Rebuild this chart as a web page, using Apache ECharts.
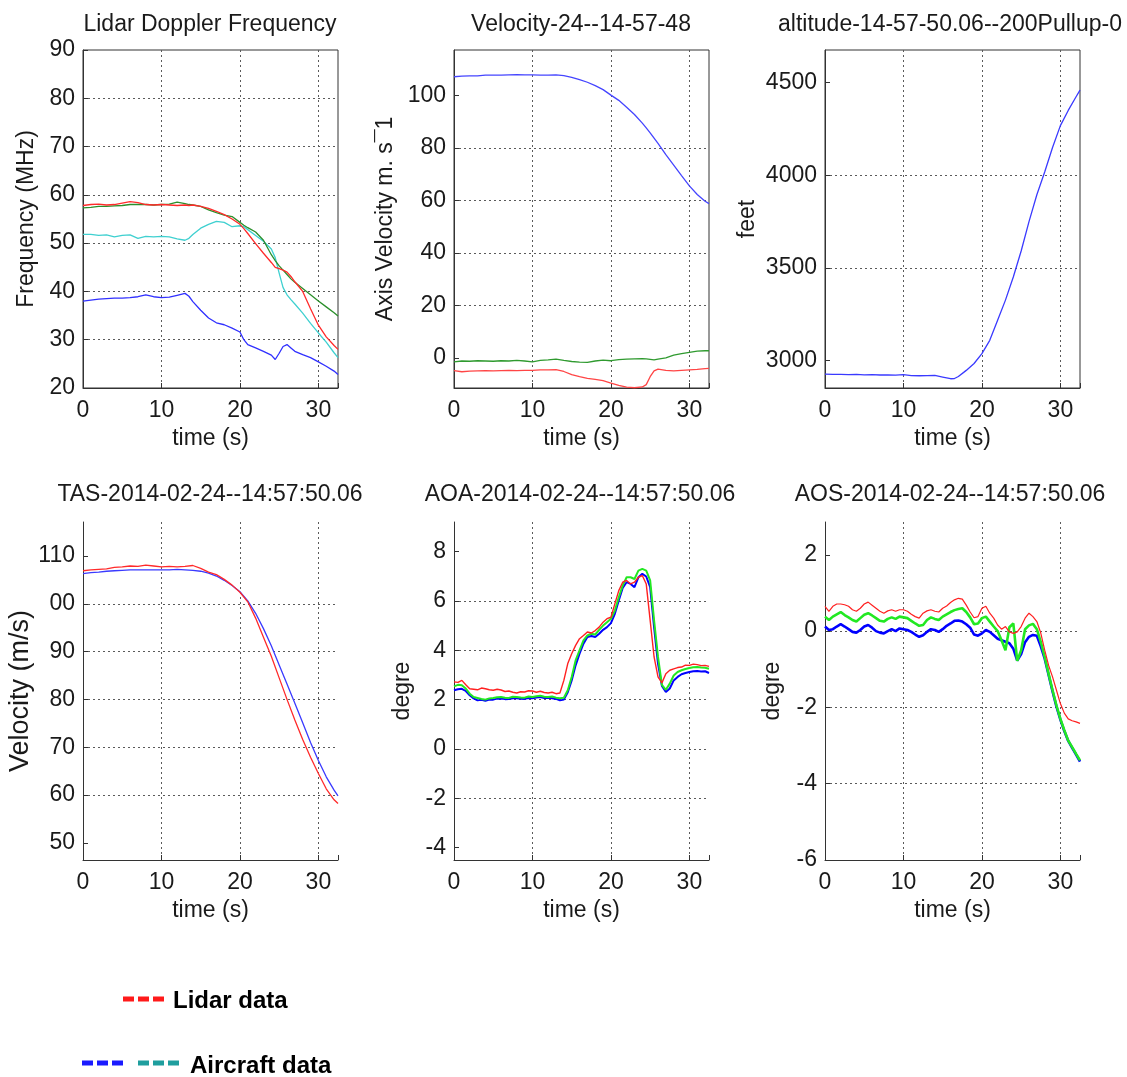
<!DOCTYPE html>
<html><head><meta charset="utf-8">
<script src="https://cdn.jsdelivr.net/npm/echarts@6/dist/echarts.min.js"></script>
<style>html,body{margin:0;padding:0;background:#fff}#c{width:1127px;height:1077px}</style>
</head><body><div id="c"></div>
<script>
// ---------------- text ----------------
const panelTitles = ['Lidar Doppler Frequency', 'Velocity-24--14-57-48', 'altitude-14-57-50.06--200Pullup-0',
  'TAS-2014-02-24--14:57:50.06', 'AOA-2014-02-24--14:57:50.06', 'AOS-2014-02-24--14:57:50.06'];
const yNames = ['Frequency (MHz)', 'Axis Velocity m. s\u00AF1', 'feet', 'Velocity (m/s)', 'degre', 'degre'];
const xName = 'time (s)';
const legendLabels = ['Lidar data', 'Aircraft data'];

// ---------------- tick labels ----------------
const timeTicks = [0, 10, 20, 30];
const timeTickLabels = ['0', '10', '20', '30'];
const freqTicks = [20, 30, 40, 50, 60, 70, 80, 90];
const freqTickLabels = ['20', '30', '40', '50', '60', '70', '80', '90'];
const velTicks = [0, 20, 40, 60, 80, 100];
const velTickLabels = ['0', '20', '40', '60', '80', '100'];
const altTicks = [3000, 3500, 4000, 4500];
const altTickLabels = ['3000', '3500', '4000', '4500'];
const tasTicks = [50, 60, 70, 80, 90, 100, 110];
const tasTickLabels = ['50', '60', '70', '80', '90', '00', '110'];
const aoaTicks = [-4, -2, 0, 2, 4, 6, 8];
const aoaTickLabels = ['-4', '-2', '0', '2', '4', '6', '8'];
const aosTicks = [-6, -4, -2, 0, 2];
const aosTickLabels = ['-6', '-4', '-2', '0', '2'];

// ---------------- axis extents ----------------
const timeRange = [0, 32.5];
const freqRange = [20, 90];
const velRange = [-11.5, 117.4];
const altRange = [2853, 4676];
const tasRange = [46.4, 117.1];
const aoaRange = [-4.5, 9.2];
const aosRange = [-6, 2.86];

// ---------------- Lidar Doppler Frequency ----------------
const t1 = [0,1,2,3,4,5,6,7,8,9,10,11,12,13,13.5,14,15,16,17,18,19,20,20.5,21,22,23,24,24.5,25,25.5,26,26.5,27,28,29,30,31,32,32.5];
const freqRed = [57.8,58.0,58.1,57.9,58.0,58.3,58.6,58.4,58.0,57.9,58.0,57.9,57.8,57.9,57.8,57.9,57.6,57.2,56.6,55.9,55.0,53.9,53.0,52.0,49.9,47.9,46.0,45.0,44.7,44.4,44.0,43.1,42.0,40.0,36.4,33.0,30.6,28.8,28.0];
const freqGreen = [57.3,57.4,57.6,57.6,57.7,57.8,58.0,58.0,58.0,57.9,58.0,58.1,58.5,58.2,58.0,57.9,57.6,56.9,56.3,55.8,55.5,54.3,53.7,53.2,52.3,50.6,47.6,46.4,45.3,44.4,43.5,42.6,41.9,40.6,39.3,38.0,36.8,35.6,34.9];
const freqCyan = [51.8,51.8,51.6,51.7,51.3,51.6,51.7,51.0,51.4,51.3,51.4,51.3,50.9,50.6,51.0,51.8,53.1,53.9,54.5,54.3,53.4,53.6,53.4,52.8,51.6,50.4,48.8,47.0,43.8,40.8,39.3,38.3,37.4,35.5,33.4,31.4,29.5,27.3,26.3];
const freqBlue = [38.0,38.2,38.4,38.5,38.6,38.6,38.7,38.9,39.3,38.9,38.7,38.8,39.2,39.6,39.0,37.9,36.1,34.5,33.5,33.1,32.4,31.6,30.0,29.0,28.3,27.6,26.8,25.9,27.2,28.6,29.0,28.3,27.6,26.9,26.3,25.4,24.5,23.5,22.8];

// ---------------- Axis velocity ----------------
const t2 = [0,1,2,3,4,5,6,7,8,9,10,11,12,13,14,15,16,17,18,19,20,21,22,23,24,24.5,25,25.5,26,27,28,29,30,31,32,32.5];
const velBlue = [107.2,107.4,107.5,107.5,107.8,107.8,107.8,107.9,108.0,107.9,107.9,107.8,107.8,107.9,107.6,107.0,106.1,105.1,103.8,102.3,100.2,98.2,95.6,92.8,89.5,87.7,85.8,83.8,81.8,77.5,73.5,69.5,65.6,62.3,59.7,58.8];
const velGreen = [-1.5,-1.2,-1.3,-1.1,-1.2,-1.3,-1.1,-1.2,-1.0,-1.2,-1.5,-1.0,-0.8,-0.5,-1.0,-1.4,-1.6,-1.7,-1.2,-0.9,-1.1,-0.7,-0.5,-0.4,-0.3,-0.4,-0.6,-0.8,-0.5,0.0,1.0,1.6,2.1,2.6,2.7,2.7];
const velRed = [-4.9,-5.3,-5.1,-5.0,-4.9,-5.0,-4.9,-4.8,-4.9,-4.8,-4.8,-4.6,-4.6,-4.5,-5.2,-6.4,-7.2,-7.8,-8.2,-8.7,-9.6,-10.5,-11.2,-11.4,-11.1,-10.2,-7.2,-5.0,-4.3,-4.8,-5.0,-4.8,-4.6,-4.4,-4.1,-4.0];

// ---------------- Altitude ----------------
const t3 = [0,1,2,3,4,5,6,7,8,9,10,11,12,13,14,15,16,16.5,17,18,19,20,21,22,23,24,25,26,27,28,29,30,31,32,32.5];
const altBlue = [2928,2926,2927,2925,2926,2924,2925,2923,2924,2922,2925,2920,2919,2920,2921,2912,2903,2904,2915,2948,2985,3038,3110,3218,3327,3452,3592,3750,3895,4018,4150,4268,4350,4424,4460];

// ---------------- TAS ----------------
const t4 = [0,1,2,3,4,5,6,7,8,9,10,11,12,13,14,15,16,17,18,19,20,21,22,23,24,25,26,27,28,29,30,31,32,32.5];
const tasRed = [106.9,107.1,107.2,107.3,107.6,107.7,107.9,107.8,108.1,107.9,107.7,107.8,107.7,107.8,108.0,107.4,106.6,106.1,105.1,103.9,102.4,100.4,97.0,93.0,89.0,84.5,80.0,75.7,71.6,67.9,64.5,61.3,59.0,58.2];
const tasBlue = [106.3,106.5,106.6,106.8,106.9,107.0,107.1,107.1,107.1,107.1,107.1,107.1,107.2,107.1,107.0,106.8,106.4,105.8,104.9,103.8,102.5,100.6,98.0,94.8,91.2,87.2,83.2,79.2,75.1,71.0,67.2,63.8,61.0,59.8];

// ---------------- AOA / AOS (shared time base) ----------------
const t5 = [0,0.5,1,1.5,2,2.5,3,3.5,4,4.5,5,5.5,6,6.5,7,7.5,8,8.5,9,9.5,10,10.5,11,11.5,12,12.5,13,13.5,14,14.5,15,15.5,16,16.5,17,17.5,18,18.5,19,19.5,20,20.5,21,21.5,22,22.5,23,23.5,24,24.5,25,25.5,26,26.5,27,27.5,28,28.5,29,29.5,30,30.5,31,31.5,32,32.5];
const aoaRed = [2.72,2.70,2.78,2.60,2.44,2.42,2.40,2.47,2.44,2.40,
  2.38,2.42,2.39,2.33,2.35,2.30,2.27,2.32,2.31,2.36,
  2.35,2.30,2.34,2.29,2.27,2.30,2.24,2.27,2.78,3.46,
  3.86,4.20,4.47,4.60,4.74,4.70,4.80,4.94,5.14,5.28,
  5.34,5.88,6.42,6.76,6.83,6.69,6.76,6.96,7.03,6.69,
  5.21,3.73,2.92,2.68,3.05,3.19,3.25,3.30,3.32,3.40,
  3.39,3.44,3.42,3.38,3.39,3.35];
const aoaGreen = [2.54,2.60,2.58,2.45,2.24,2.11,2.07,2.03,2.00,2.05,
  2.07,2.10,2.11,2.08,2.07,2.12,2.11,2.09,2.08,2.13,
  2.11,2.14,2.16,2.12,2.11,2.13,2.08,2.06,2.08,2.38,
  2.92,3.59,4.00,4.40,4.60,4.67,4.64,4.83,5.00,5.14,
  5.28,5.61,6.15,6.62,6.96,6.96,6.89,7.23,7.30,7.23,
  6.83,5.21,3.73,2.60,2.40,2.65,2.98,3.12,3.19,3.24,
  3.28,3.31,3.32,3.30,3.29,3.25];
const aoaBlue = [2.38,2.42,2.44,2.35,2.18,2.05,1.97,1.99,1.95,2.00,
  2.00,2.04,2.05,2.02,2.03,2.06,2.06,2.04,2.03,2.07,
  2.06,2.09,2.11,2.07,2.08,2.06,2.03,1.97,2.00,2.30,
  2.78,3.39,3.86,4.27,4.54,4.58,4.54,4.67,4.83,4.94,
  5.10,5.48,6.02,6.53,6.76,6.69,6.56,6.96,7.10,6.99,
  6.56,4.94,3.46,2.55,2.31,2.45,2.78,2.92,3.03,3.08,
  3.12,3.15,3.16,3.14,3.15,3.08];
const aosRed = [0.65,0.52,0.65,0.71,0.71,0.69,0.65,0.56,0.52,0.60,
  0.71,0.76,0.68,0.60,0.52,0.47,0.53,0.56,0.52,0.56,
  0.56,0.52,0.44,0.38,0.34,0.47,0.53,0.56,0.52,0.50,
  0.60,0.66,0.75,0.82,0.86,0.84,0.68,0.50,0.35,0.38,
  0.60,0.65,0.47,0.34,0.16,0.05,0.12,-0.02,-0.06,-0.02,
  0.12,0.34,0.47,0.38,0.25,-0.05,-0.50,-0.90,-1.20,-1.55,
  -1.90,-2.15,-2.30,-2.35,-2.38,-2.42];
const aosGreen = [0.38,0.29,0.38,0.44,0.50,0.42,0.36,0.29,0.25,0.34,
  0.43,0.47,0.41,0.34,0.27,0.25,0.32,0.36,0.32,0.38,
  0.36,0.34,0.27,0.20,0.14,0.16,0.29,0.36,0.32,0.29,
  0.38,0.44,0.50,0.55,0.58,0.60,0.50,0.36,0.18,0.20,
  0.34,0.38,0.25,0.12,0.00,-0.24,-0.50,0.10,0.20,-0.78,
  -0.50,0.05,0.15,0.19,0.05,-0.28,-0.68,-1.12,-1.55,-1.95,
  -2.30,-2.60,-2.87,-3.04,-3.22,-3.39];
const aosBlue = [0.12,0.03,0.05,0.12,0.18,0.12,0.05,-0.02,-0.04,0.03,
  0.12,0.16,0.09,0.00,-0.04,-0.06,0.00,0.05,0.00,0.07,
  0.05,0.03,-0.02,-0.09,-0.15,-0.11,-0.02,0.05,0.03,-0.02,
  0.05,0.14,0.20,0.27,0.28,0.25,0.18,0.09,-0.09,-0.12,
  -0.06,0.03,-0.02,-0.11,-0.20,-0.24,-0.28,-0.32,-0.46,-0.77,
  -0.60,-0.29,-0.15,-0.10,-0.12,-0.40,-0.72,-1.15,-1.58,-1.98,
  -2.32,-2.62,-2.88,-3.06,-3.24,-3.42];

// ---------------- styling / layout ----------------
const FONT = "'Liberation Sans', Arial, Helvetica, sans-serif";
const TXT = '#1a1a1a';
const AX = '#333333';
const GRIDC = '#5a5a5a';
const PW = 255, PH = 338;
const layout = [
  {left: 83, top: 50, box: true, nameGap: 45, nameSize: 23, titleX: 210, titleY: 13},
  {left: 454, top: 50, box: true, nameGap: 57, nameSize: 23, titleX: 581, titleY: 13},
  {left: 825, top: 50, box: true, nameGap: 66, nameSize: 23, titleX: 950, titleY: 13},
  {left: 83, top: 522, box: false, nameGap: 46, nameSize: 27, titleX: 210, titleY: 483},
  {left: 454, top: 522, box: false, nameGap: 40, nameSize: 23, titleX: 580, titleY: 483},
  {left: 825, top: 522, box: false, nameGap: 41, nameSize: 23, titleX: 950, titleY: 483}
];

const panels = [
  {range: freqRange, ticks: freqTicks, labels: freqTickLabels, series: [
    {t: t1, v: freqBlue, c: '#3030ff', w: 1.3}, {t: t1, v: freqCyan, c: '#3fd0d0', w: 1.3},
    {t: t1, v: freqGreen, c: '#2b8f2b', w: 1.3}, {t: t1, v: freqRed, c: '#ff2a2a', w: 1.3}]},
  {range: velRange, ticks: velTicks, labels: velTickLabels, series: [
    {t: t2, v: velBlue, c: '#4545ff', w: 1.3}, {t: t2, v: velGreen, c: '#2f9a2f', w: 1.3}, {t: t2, v: velRed, c: '#ff4545', w: 1.3}]},
  {range: altRange, ticks: altTicks, labels: altTickLabels, series: [
    {t: t3, v: altBlue, c: '#3a3aff', w: 1.3}]},
  {range: tasRange, ticks: tasTicks, labels: tasTickLabels, series: [
    {t: t4, v: tasBlue, c: '#3a3aff', w: 1.3}, {t: t4, v: tasRed, c: '#ff2a2a', w: 1.3}]},
  {range: aoaRange, ticks: aoaTicks, labels: aoaTickLabels, series: [
    {t: t5, v: aoaBlue, c: '#0000ff', w: 2}, {t: t5, v: aoaGreen, c: '#22e822', w: 2}, {t: t5, v: aoaRed, c: '#ff2020', w: 1.4}]},
  {range: aosRange, ticks: aosTicks, labels: aosTickLabels, series: [
    {t: t5, v: aosBlue, c: '#0000ff', w: 2.6}, {t: t5, v: aosGreen, c: '#22e822', w: 2.6}, {t: t5, v: aosRed, c: '#ff2020', w: 1.2}]}
];

function tickFormatter(ticks, labels) {
  return function (v) {
    for (let i = 0; i < ticks.length; i++) {
      if (Math.abs(ticks[i] - v) < 1e-6 * Math.max(1, Math.abs(ticks[i]))) return labels[i];
    }
    return '';
  };
}
function zip(t, v) { return t.map((x, i) => [x, v[i]]); }

const grids = [], xAxes = [], yAxes = [], series = [], graphics = [];
const splitStyle = {type: [2, 3], color: GRIDC, width: 1};

panels.forEach((p, i) => {
  const L = layout[i];
  grids.push({left: L.left, top: L.top, width: PW, height: PH, show: L.box,
    borderColor: AX, borderWidth: 1, backgroundColor: 'transparent', containLabel: false});
  xAxes.push({
    gridIndex: i, type: 'value', min: timeRange[0], max: timeRange[1], interval: timeTicks[1] - timeTicks[0],
    axisLine: {show: true, onZero: false, lineStyle: {color: AX, width: 1}},
    axisTick: {show: true, inside: true, length: 5, lineStyle: {color: AX}},
    axisLabel: {margin: 11, fontSize: 23, color: TXT, fontFamily: FONT, formatter: tickFormatter(timeTicks, timeTickLabels)},
    splitLine: {show: true, showMinLine: false, showMaxLine: false, lineStyle: splitStyle},
    name: xName, nameLocation: 'middle', nameGap: 39,
    nameTextStyle: {fontSize: 23, color: TXT, fontFamily: FONT}
  });
  const step = p.ticks[1] - p.ticks[0];
  yAxes.push({
    gridIndex: i, type: 'value', min: p.range[0], max: p.range[1],
    minInterval: step, maxInterval: step, splitNumber: Math.round((p.range[1] - p.range[0]) / step),
    axisLine: {show: true, onZero: false, lineStyle: {color: AX, width: 1}},
    axisTick: {show: true, inside: true, length: 5, customValues: p.ticks, lineStyle: {color: AX}},
    axisLabel: {margin: 8, fontSize: 23, color: TXT, fontFamily: FONT, formatter: tickFormatter(p.ticks, p.labels)},
    splitLine: {show: true, showMinLine: false, showMaxLine: false, lineStyle: splitStyle},
    name: yNames[i], nameLocation: 'middle', nameGap: L.nameGap,
    nameTextStyle: {fontSize: L.nameSize, color: TXT, fontFamily: FONT}
  });
  p.series.forEach(s => {
    series.push({type: 'line', xAxisIndex: i, yAxisIndex: i, data: zip(s.t, s.v),
      showSymbol: false, symbol: 'none', smooth: false, clip: true, silent: true,
      lineStyle: {color: s.c, width: s.w}, itemStyle: {color: s.c}, animation: false});
  });
  graphics.push({type: 'text', x: L.titleX, y: L.titleY,
    style: {text: panelTitles[i], font: `23px ${FONT}`, fill: TXT,
      align: 'center', textAlign: 'center', verticalAlign: 'top', textVerticalAlign: 'top'}});
});

// legend (drawn as graphics)
graphics.push({type: 'line', shape: {x1: 123, y1: 999, x2: 165, y2: 999}, style: {stroke: '#ff1a1a', lineWidth: 5, lineDash: [11, 4]}});
graphics.push({type: 'text', x: 173, y: 1001, style: {text: legendLabels[0], font: `bold 24px ${FONT}`, fill: '#000',
  align: 'left', textAlign: 'left', verticalAlign: 'middle', textVerticalAlign: 'middle'}});
graphics.push({type: 'line', shape: {x1: 82, y1: 1063, x2: 124, y2: 1063}, style: {stroke: '#1a1aff', lineWidth: 5, lineDash: [11, 4]}});
graphics.push({type: 'line', shape: {x1: 138, y1: 1063, x2: 180, y2: 1063}, style: {stroke: '#1f9e9e', lineWidth: 5, lineDash: [11, 4]}});
graphics.push({type: 'text', x: 190, y: 1066, style: {text: legendLabels[1], font: `bold 24px ${FONT}`, fill: '#000',
  align: 'left', textAlign: 'left', verticalAlign: 'middle', textVerticalAlign: 'middle'}});

const chart = echarts.init(document.getElementById('c'), null, {renderer: 'canvas'});
chart.setOption({
  backgroundColor: '#ffffff',
  animation: false,
  grid: grids, xAxis: xAxes, yAxis: yAxes, series: series,
  graphic: {elements: graphics}
});
</script>
</body></html>
